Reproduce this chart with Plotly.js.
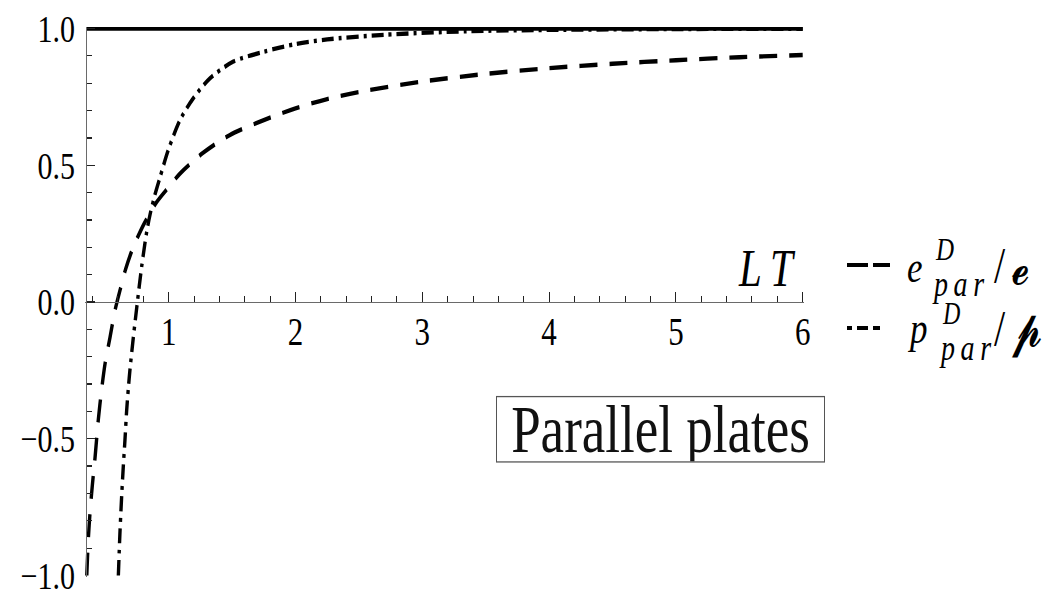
<!DOCTYPE html>
<html>
<head>
<meta charset="utf-8">
<script src="https://cdn.plot.ly/plotly-3.0.1.min.js"></script>
<style>
  html, body { margin: 0; padding: 0; background: #fff; overflow: hidden; }
  #wrap { width: 1049px; height: 592px; overflow: hidden; }
  /* the figure is drawn at a shorter height and stretched vertically */
  #plot { width: 1049px; height: 462px; transform: scaleY(1.2813853); transform-origin: 0 0; }
</style>
</head>
<body>
<div id="wrap"><div id="plot"></div></div>
<script>
// Energy ratio e^D_par / e versus LT
const ltEnergy = [0.354, 0.360, 0.367, 0.378, 0.392, 0.405, 0.419, 0.445, 0.471, 0.50, 0.537, 0.577,
  0.62, 0.66, 0.72, 0.81, 0.905, 1.0, 1.09, 1.27, 1.48, 1.75, 2.0, 2.25, 2.5, 3.0, 3.5, 4.0, 4.5, 5.0, 5.5, 6.0];
const energyRatio = [-1.0, -0.93, -0.86, -0.78, -0.70, -0.635, -0.57, -0.43, -0.32, -0.22, -0.13, -0.03,
  0.05, 0.12, 0.20, 0.29, 0.365, 0.42, 0.47, 0.545, 0.61, 0.665, 0.708, 0.742, 0.768, 0.806, 0.834, 0.855, 0.871, 0.884, 0.895, 0.903];

// Pressure ratio p^D_par / p versus LT
const ltPressure = [0.603, 0.615, 0.629, 0.642, 0.655, 0.668, 0.681, 0.695, 0.721, 0.748, 0.787, 0.826,
  0.853, 0.89, 0.931, 0.997, 1.089, 1.194, 1.326, 1.51, 1.75, 2.0, 2.25, 2.7, 3.35, 4.0, 5.0, 6.0];
const pressureRatio = [-1.0, -0.85, -0.71, -0.60, -0.505, -0.40, -0.32, -0.245, -0.13, -0.02, 0.13, 0.255,
  0.32, 0.39, 0.455, 0.556, 0.665, 0.745, 0.818, 0.879, 0.915, 0.943, 0.960, 0.977, 0.990, 0.995, 0.998, 0.999];

// High-temperature limit
const ltLimit = [0.348, 6.0];
const limitRatio = [1, 1];

// Tick labels
const xTickVals = [1, 2, 3, 4, 5, 6];
const xTickText = ['1', '2', '3', '4', '5', '6'];
const yTickVals = [-1, -0.5, 0, 0.5, 1];
const yTickText = ['\u22121.0', '\u22120.5', '0.0', '0.5', '1.0'];

// ---- geometry (page pixels; the plot div is stretched by S vertically) ----
const S = 592 / 462;
const M = { l: 85, r: 245, t: 21, b: 12 };
const plotW = 1049 - M.l - M.r;
const pageTop = M.t * S, pageBottom = (462 - M.b) * S;
const xPerUnit = 126.8, xOrigin = 41.9;      // page px of LT = 0
const yPerUnit = 273.5, yOrigin = 302;       // page px of ratio = 0
const xRange = [(M.l - xOrigin) / xPerUnit, (M.l + plotW - xOrigin) / xPerUnit];
const yRange = [(yOrigin - pageBottom) / yPerUnit, (yOrigin - pageTop) / yPerUnit];
const axisCrossX = 0.348;

const px = v => (v - M.l) / plotW;
const py = v => (pageBottom - v) / (pageBottom - pageTop);

const serif = 'Liberation Serif';

const traces = [
  { x: ltLimit, y: limitRatio, mode: 'lines', line: { color: '#000', width: 3.5 }, hoverinfo: 'skip' },
  { x: ltEnergy, y: energyRatio, mode: 'lines',
    line: { color: '#000', width: 3.4, dash: '18px,12px', shape: 'spline', smoothing: 0.8 } },
  { x: ltPressure, y: pressureRatio, mode: 'lines',
    line: { color: '#000', width: 3.4, dash: '12px,5px,3px,5px', shape: 'spline', smoothing: 0.8 } }
];

function label(text, x, y, size, xanchor) {
  return { text: text, xref: 'paper', yref: 'paper', x: px(x), y: py(y),
    xanchor: xanchor || 'left', yanchor: 'middle', showarrow: false,
    font: { family: serif, size: size, color: '#000' } };
}

const annotations = [
  label('<i>L\u2009T</i>', 767, 268, 41, 'center'),
  // legend row 1
  label('<i>e</i>', 905, 267, 35),
  label('<i>D</i>', 933, 249, 25),
  label('<i>p\u2009a\u2009r</i>', 930, 284, 28),
  label('/', 992, 265, 40),
  label('\uD835\uDCEE', 1010, 267, 40),
  // legend row 2
  label('<i>p</i>', 905, 329, 35),
  label('<i>D</i>', 940, 314, 24),
  label('<i>p\u2009a\u2009r</i>', 937, 348, 28),
  label('/', 992, 327, 40),
  label('\uD835\uDCF9', 1010, 329, 40),
  // boxed caption
  { text: 'Parallel plates', xref: 'paper', yref: 'paper', x: px(660.4), y: py(429.4),
    xanchor: 'center', yanchor: 'middle', showarrow: false,
    width: 327, height: 50, borderpad: 0, borderwidth: 1, bordercolor: '#555',
    font: { family: serif, size: 53, color: '#111' } }
];

const shapes = [
  { type: 'line', xref: 'paper', yref: 'paper', x0: px(847), x1: px(890), y0: py(265), y1: py(265),
    line: { color: '#000', width: 3.2, dash: '21px,5px' } },
  { type: 'line', xref: 'paper', yref: 'paper', x0: px(847), x1: px(880), y0: py(328), y1: py(328),
    line: { color: '#000', width: 3.2, dash: '5px,5px,11px,5px,7px' } }
];

const layout = {
  width: 1049, height: 462,
  margin: M,
  font: { family: serif },
  paper_bgcolor: '#fff', plot_bgcolor: '#fff',
  showlegend: false,
  xaxis: {
    range: xRange, anchor: 'free',
    position: (0 - yRange[0]) / (yRange[1] - yRange[0]),
    showgrid: false, zeroline: false,
    showline: true, linecolor: '#6a6a6a', linewidth: 1,
    ticks: 'inside', ticklen: 8, tickwidth: 1, tickcolor: '#222',
    tickvals: xTickVals, ticktext: xTickText,
    ticklabelstandoff: -5, ticklabeloverflow: 'allow',
    minor: { dtick: 0.2, tick0: 0, ticks: 'inside', ticklen: 4.7, tickwidth: 1, tickcolor: '#222' },
    tickfont: { family: serif, size: 31, color: '#000' }
  },
  yaxis: {
    range: yRange, anchor: 'free',
    position: (axisCrossX - xRange[0]) / (xRange[1] - xRange[0]),
    showgrid: false, zeroline: false,
    showline: true, linecolor: '#6a6a6a', linewidth: 1,
    ticks: 'inside', ticklen: 8, tickwidth: 1, tickcolor: '#222',
    tickvals: yTickVals, ticktext: yTickText,
    ticklabelstandoff: 5, ticklabeloverflow: 'allow',
    minor: { dtick: 0.1, tick0: 0, ticks: 'inside', ticklen: 5, tickwidth: 1, tickcolor: '#222' },
    tickfont: { family: serif, size: 30, color: '#000' }
  },
  annotations: annotations,
  shapes: shapes
};

Plotly.newPlot('plot', traces, layout, { displayModeBar: false, staticPlot: true });
</script>
</body>
</html>
